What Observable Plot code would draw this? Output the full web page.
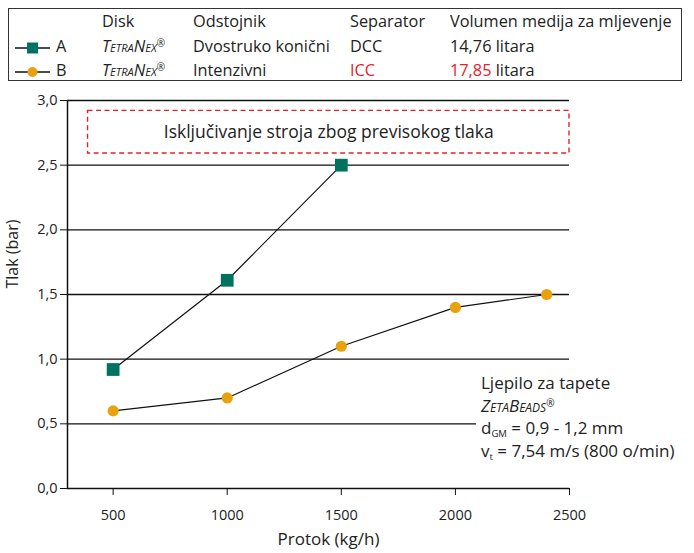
<!DOCTYPE html>
<html>
<head>
<meta charset="utf-8">
<script src="https://cdn.jsdelivr.net/npm/d3@7"></script>
<script src="https://cdn.jsdelivr.net/npm/@observablehq/plot@0.6"></script>
<style>
  html, body { margin: 0; padding: 0; background: #fff; }
  body { font-family: "Open Sans", "Noto Sans", sans-serif; color: #222; }
  #wrap { position: relative; width: 694px; height: 553px; overflow: hidden; }
  #legend { position: absolute; left: 8px; top: 8px; width: 674px; height: 73px; border: 1.3px solid #333; box-sizing: border-box; }
  .t { position: absolute; font-size: 16.3px; white-space: nowrap; line-height: 1; }
  .h { font-weight: 500; }
  .sc { font-style: italic; font-variant: small-caps; }
  .reg { font-size: 10px; vertical-align: 5px; font-style: normal; line-height: 0; }
  .red { color: #e8202a; }
  #chart { position: absolute; left: 0; top: 85px; }
  #note { position: absolute; left: 476px; top: 372px; width: 218px; height: 90px; background: #fff; }
  #note .t { font-size: 17px; }
  sub { font-size: 9.5px; vertical-align: -3px; line-height: 0; }
</style>
</head>
<body>
<div id="wrap">
  <div id="legend"></div>
  <div id="chart"></div>
  <div id="note"></div>
</div>
<script>
// ---- data ----
const seriesNames = ["A", "B"];
const flowA = [500, 1000, 1500];
const pressureA = [0.92, 1.61, 2.50];
const flowB = [500, 1000, 1500, 2000, 2400];
const pressureB = [0.60, 0.70, 1.10, 1.40, 1.50];
const xTicks = [500, 1000, 1500, 2000, 2500];
const yTicks = [0, 0.5, 1.0, 1.5, 2.0, 2.5, 3.0];
const gridY = [0.5, 1.0, 1.5, 2.0, 2.5, 3.0];
const xDomain = [300, 2500];
const yDomain = [0, 3];
const warnBox = {x1: 390, x2: 2500, y1: 2.59, y2: 2.92};
const warnText = "Isključivanje stroja zbog previsokog tlaka";
const legendHeader = ["Disk", "Odstojnik", "Separator", "Volumen medija za mljevenje"];
const legendDisk = ["TetraNex", "TetraNex"];
const legendSpacer = ["Dvostruko konični", "Intenzivni"];
const legendSeparator = ["DCC", "ICC"];
const legendVolume = ["14,76", "17,85"];
const colors = {A: "#00735f", B: "#e8a20f"};
const red = "#e8202a";

const dataA = flowA.map((x, i) => ({series: "A", flow: x, p: pressureA[i]}));
const dataB = flowB.map((x, i) => ({series: "B", flow: x, p: pressureB[i]}));
const fmt = d => d.toFixed(1).replace(".", ",");

// ---- legend (HTML) ----
const lg = document.getElementById("legend");
const colX = [93, 184, 341, 441]; // relative to legend box
const rowY = [4, 29, 53];
function addT(txt, x, y, cls) {
  const s = document.createElement("span");
  s.className = "t " + (cls || "");
  s.style.left = x + "px"; s.style.top = y + "px";
  s.innerHTML = txt;
  lg.appendChild(s);
  return s;
}
legendHeader.forEach((h, i) => addT(h, colX[i], rowY[0], "h"));
seriesNames.forEach((name, i) => {
  const y = rowY[i + 1];
  const svgNS = "http://www.w3.org/2000/svg";
  const m = document.createElementNS(svgNS, "svg");
  m.setAttribute("width", 40); m.setAttribute("height", 16);
  m.style.position = "absolute"; m.style.left = "6px"; m.style.top = (y + 2) + "px";
  const l = document.createElementNS(svgNS, "line");
  l.setAttribute("x1", 0); l.setAttribute("x2", 35); l.setAttribute("y1", 8); l.setAttribute("y2", 8);
  l.setAttribute("stroke", "#111"); l.setAttribute("stroke-width", 1.3);
  m.appendChild(l);
  if (name === "A") {
    const r = document.createElementNS(svgNS, "rect");
    r.setAttribute("x", 12); r.setAttribute("y", 2.5); r.setAttribute("width", 11); r.setAttribute("height", 11);
    r.setAttribute("fill", colors.A); m.appendChild(r);
  } else {
    const c = document.createElementNS(svgNS, "circle");
    c.setAttribute("cx", 17.5); c.setAttribute("cy", 8); c.setAttribute("r", 5);
    c.setAttribute("fill", colors.B); m.appendChild(c);
  }
  lg.appendChild(m);
  addT(name, 47, y, "");
  addT(legendDisk[i] + '<span class="reg">®</span>', colX[0], y, "sc");
  addT(legendSpacer[i], colX[1], y, "");
  addT(legendSeparator[i], colX[2], y, i === 1 ? "red" : "");
  addT('<span class="' + (i === 1 ? "red" : "") + '">' + legendVolume[i] + '</span> litara', colX[3], y, "");
});

// ---- chart ----
const chart = Plot.plot({
  width: 694,
  height: 468,
  marginTop: 15,
  marginBottom: 65,
  marginLeft: 67,
  marginRight: 125,
  style: {fontFamily: '"Open Sans", "Noto Sans", sans-serif', fontSize: "14.5px", color: "#222", background: "#fff"},
  x: {domain: xDomain},
  y: {domain: yDomain},
  marks: [
    Plot.ruleY(gridY, {x1: xDomain[0], x2: xDomain[1], stroke: "#111", strokeWidth: 1.3}),
    Plot.ruleY([yDomain[0]], {x1: xDomain[0], x2: xDomain[1], stroke: "#111", strokeWidth: 1.5}),
    Plot.ruleX([xDomain[0]], {y1: yDomain[0], y2: yDomain[1], stroke: "#111", strokeWidth: 1.5}),
    Plot.axisY({ticks: yTicks, tickSize: 7, tickPadding: 3, tickFormat: fmt, label: null, stroke: "#111"}),
    Plot.axisX({ticks: xTicks, tickSize: 7, tickPadding: 14, tickFormat: d => String(d), label: null, stroke: "#111"}),
    Plot.text(["Tlak (bar)"], {frameAnchor: "left", dx: -55, dy: -6, rotate: -90, fontSize: 16, fill: "#222"}),
    Plot.text(["Protok (kg/h)"], {frameAnchor: "bottom", dx: 10, dy: 56, fontSize: 17, fill: "#222"}),
    Plot.rect([warnBox], {x1: "x1", x2: "x2", y1: "y1", y2: "y2", fill: "none", stroke: red, strokeWidth: 1.4, strokeDasharray: "5,3.5"}),
    Plot.text([warnText], {x: (warnBox.x1 + warnBox.x2) / 2, y: (warnBox.y1 + warnBox.y2) / 2, fontSize: 17.5, fill: "#222"}),
    Plot.line(dataA, {x: "flow", y: "p", stroke: "#111", strokeWidth: 1.2}),
    Plot.line(dataB, {x: "flow", y: "p", stroke: "#111", strokeWidth: 1.2}),
    Plot.dot(dataA, {x: "flow", y: "p", symbol: "square", r: 7.2, fill: colors.A, stroke: "none"}),
    Plot.dot(dataB, {x: "flow", y: "p", symbol: "circle", r: 5.6, fill: colors.B, stroke: "none"})
  ]
});
document.getElementById("chart").appendChild(chart);

// ---- annotation ----
const note = document.getElementById("note");
const noteLines = [
  "Ljepilo za tapete",
  '<span class="sc">ZetaBeads</span><span class="reg">®</span>',
  "d<sub>GM</sub> = 0,9 - 1,2 mm",
  "v<sub>t</sub> = 7,54 m/s (800 o/min)"
];
noteLines.forEach((txt, i) => {
  const s = document.createElement("span");
  s.className = "t";
  s.style.left = "5px"; s.style.top = (2 + i * 22.5) + "px";
  s.innerHTML = txt;
  note.appendChild(s);
});
</script>
</body>
</html>
